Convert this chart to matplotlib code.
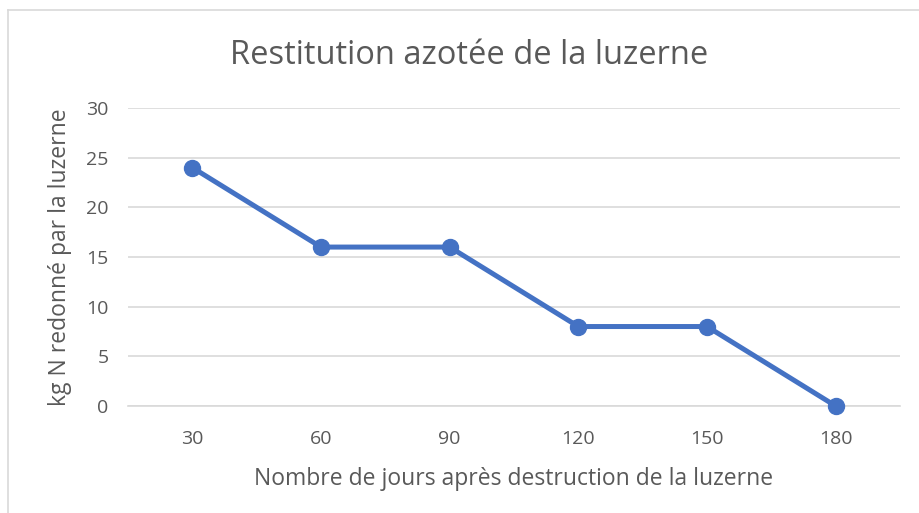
import matplotlib.pyplot as plt

jours = ['30', '60', '90', '120', '150', '180']
azote = [24, 16, 16, 8, 8, 0]
y_ticks = [0, 5, 10, 15, 20, 25, 30]

plt.rcParams['font.family'] = ['Open Sans', 'DejaVu Sans']
gris = '#595959'

fig = plt.figure(figsize=(9.19, 5.13), dpi=100)
ax = fig.add_axes([128 / 919, 1 - 406 / 513, 772 / 919, 298 / 513])

x = range(len(jours))
ax.plot(x, azote, color='#4472C4', linewidth=3.6, marker='o', markersize=11.5,
        solid_capstyle='round', zorder=3, clip_on=False)

ax.set_xlim(-0.5, len(jours) - 0.5)
ax.set_ylim(0, 30)
ax.set_xticks(list(x))
ax.set_xticklabels(jours)
ax.set_yticks(y_ticks)
ax.tick_params(length=0, labelsize=14, labelcolor=gris)
ax.tick_params(axis='x', pad=17)
ax.tick_params(axis='y', pad=14)
ax.grid(axis='y', color='#D9D9D9', linewidth=1.2)
ax.set_axisbelow(True)
for s in ax.spines.values():
    s.set_visible(False)
ax.spines['bottom'].set_visible(True)
ax.spines['bottom'].set_color('#D9D9D9')
ax.spines['bottom'].set_linewidth(1.2)

ax.set_xlabel('Nombre de jours après destruction de la luzerne', fontsize=16.5,
              color=gris, labelpad=14)
ax.set_ylabel('kg N redonné par la luzerne', fontsize=16.5, color=gris, labelpad=10)
fig.text(0.511, 1 - 56 / 513, 'Restitution azotée de la luzerne', fontsize=23.5,
         color=gris, ha='center', va='center')

# bordure du graphique (coupée à droite et en bas)
fig.add_artist(plt.Line2D([8 / 919, 8 / 919], [0, 1 - 10 / 513], color='#D9D9D9',
                          linewidth=1.2, transform=fig.transFigure))
fig.add_artist(plt.Line2D([8 / 919, 1], [1 - 10 / 513, 1 - 10 / 513], color='#D9D9D9',
                          linewidth=1.2, transform=fig.transFigure))

plt.savefig('out.png', dpi=100)
